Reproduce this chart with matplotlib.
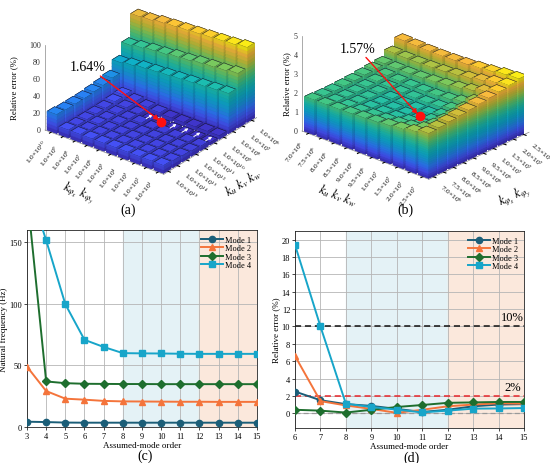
import numpy as np
import matplotlib
matplotlib.use('Agg')
import matplotlib.pyplot as plt
from matplotlib.colors import LinearSegmentedColormap
from mpl_toolkits.mplot3d import proj3d

plt.rcParams['font.family'] = ['Liberation Serif', 'DejaVu Serif']
plt.rcParams['mathtext.fontset'] = 'stix'

# ------------------------------------------------------------------ data
# (a) k_phi along left edge (left corner -> front corner), k_u along right edge (front -> back)
a_phi_labels = ['1.0×10$^{%d}$' % e for e in [10, 9, 8, 7, 6, 5, 4, 3, 2, 1]]
a_u_labels = ['1.0×10$^{%d}$' % e for e in [15, 14, 13, 12, 11, 10, 9, 8, 7, 6]]
a_err = np.array([
    [22, 9, 9, 9, 9, 9, 9, 9, 9, 9],
    [21, 8, 8, 8, 8, 8, 8, 8, 8, 8],
    [21, 8, 8, 7, 7, 7, 7, 7, 7, 7],
    [21, 8, 7, 7, 6, 6, 6, 6, 6, 6],
    [22, 8, 7, 6, 6, 5, 5, 5, 5, 5],
    [23, 9, 7, 5, 2.5, 1.64, 1.8, 2.0, 2.2, 2.5],
    [25, 10, 8, 6, 5, 4, 4, 4, 4, 4],
    [36, 38, 40, 41, 42, 43, 44, 45, 46, 47],
    [50, 52, 54, 55, 57, 58, 60, 61, 62, 64],
    [77, 78, 80, 81, 82, 83, 84, 85, 86, 88],
])
a_best = (5, 5)          # (column, row) of the 1.64 % bar
a_arrow_cols = [4, 6, 7, 8, 9]   # small white arrows in the best row

# (b) k_u along left edge, k_phi along right edge
b_u_labels = ['7.0×10$^{6}$', '7.5×10$^{6}$', '8.0×10$^{6}$', '8.5×10$^{6}$', '9.0×10$^{6}$',
              '9.5×10$^{6}$', '1.0×10$^{7}$', '1.5×10$^{7}$', '2.0×10$^{7}$', '2.5×10$^{7}$']
b_phi_labels = list(b_u_labels)
b_err = np.array([
    [1.82, 1.82, 1.83, 1.85, 1.88, 1.92, 1.98, 2.06, 2.18, 2.35],
    [1.80, 1.76, 1.74, 1.74, 1.75, 1.78, 1.83, 1.92, 2.08, 2.40],
    [1.80, 1.74, 1.70, 1.68, 1.66, 1.66, 1.70, 1.80, 2.02, 2.46],
    [1.82, 1.75, 1.69, 1.65, 1.62, 1.60, 1.57, 1.76, 2.02, 2.52],
    [1.85, 1.78, 1.72, 1.67, 1.64, 1.62, 1.63, 1.78, 2.06, 2.58],
    [1.90, 1.82, 1.76, 1.72, 1.70, 1.70, 1.74, 1.86, 2.14, 2.65],
    [1.95, 1.88, 1.83, 1.80, 1.80, 1.82, 1.88, 2.00, 2.28, 2.72],
    [2.00, 1.98, 1.98, 2.00, 2.05, 2.12, 2.22, 2.35, 2.55, 2.80],
    [2.30, 2.28, 2.28, 2.30, 2.34, 2.40, 2.50, 2.62, 2.78, 2.90],
    [2.70, 2.68, 2.66, 2.66, 2.68, 2.72, 2.78, 2.85, 2.95, 3.00],
])
b_best = (6, 3)

# (c) natural frequency vs assumed-mode order
modes = ['Mode 1', 'Mode 2', 'Mode 3', 'Mode 4']
c_order = [3, 4, 5, 6, 7, 8, 9, 10, 11, 12, 13, 14, 15]
c_mode1 = [4.3, 4.0, 3.6, 3.5, 3.5, 3.5, 3.5, 3.5, 3.5, 3.5, 3.5, 3.5, 3.5]
c_mode2 = [49.0, 29.2, 23.0, 22.2, 21.2, 20.8, 20.7, 20.6, 20.5, 20.5, 20.4, 20.4, 20.4]
c_mode3 = [190.0, 37.0, 35.6, 35.1, 35.0, 34.9, 34.9, 34.8, 34.8, 34.8, 34.8, 34.8, 34.8]
c_mode4 = [200.0, 151.6, 99.7, 70.8, 65.0, 60.0, 59.8, 59.7, 59.5, 59.4, 59.4, 59.4, 59.4]

# (d) relative error vs assumed-mode order
d_order = [6, 7, 8, 9, 10, 11, 12, 13, 14, 15]
d_mode1 = [2.5, 1.5, 1.05, 0.85, 0.5, 0.15, 0.4, 0.8, 1.0, 1.05]
d_mode2 = [6.6, 1.4, 0.9, 0.5, 0.05, 0.4, 0.8, 1.0, 1.15, 1.1]
d_mode3 = [0.4, 0.3, 0.08, 0.4, 0.72, 0.95, 1.2, 1.25, 1.3, 1.3]
d_mode4 = [19.4, 10.0, 1.1, 0.72, 0.42, 0.1, 0.3, 0.53, 0.55, 0.6]
d_limits = [10, 2, 0]

# ------------------------------------------------------------------ styles
W, H = 550, 464
parula = LinearSegmentedColormap.from_list('parula', [
    (0.00, (0.24, 0.18, 0.75)), (0.10, (0.27, 0.32, 0.97)), (0.20, (0.18, 0.47, 0.99)),
    (0.30, (0.10, 0.59, 0.88)), (0.40, (0.05, 0.68, 0.80)), (0.50, (0.10, 0.74, 0.70)),
    (0.60, (0.25, 0.78, 0.53)), (0.70, (0.50, 0.79, 0.35)), (0.80, (0.78, 0.75, 0.22)),
    (0.90, (0.99, 0.73, 0.24)), (1.00, (0.98, 0.98, 0.05))])
mode_colors = ['#1b5e78', '#f4743b', '#1e6e2e', '#17a5c9']
mode_markers = ['o', '^', 'D', 's']
mode_ms = [4.5, 4.5, 3.8, 4.2]
face_factor = [0.6, 1.0, 0.9, 0.6, 0.6, 0.8]   # -z, +z, -y, +y, -x, +x

fig = plt.figure(figsize=(W / 100, H / 100), dpi=100)


def gradient_bars(ax, Z, vmax, seg, width=0.8):
    xs, ys, zs, hs, fcs, ecs = [], [], [], [], [], []
    ny, nx = Z.shape
    off = (1 - width) / 2
    for j in range(ny):
        for i in range(nx):
            h = float(Z[j, i])
            edges = list(np.arange(0, h, seg)) + [h]
            edges = [e for k, e in enumerate(edges) if k == 0 or e - edges[k - 1] > 1e-6]
            for k in range(len(edges) - 1):
                z0, z1 = edges[k], edges[k + 1]
                xs.append(i + off); ys.append(j + off); zs.append(z0); hs.append(z1 - z0)
                base = np.array(parula(min(1.0, (z0 + z1) / 2 / vmax)))
                top = k == len(edges) - 2
                for f, fac in enumerate(face_factor):
                    c = base.copy()
                    c[:3] *= fac
                    fcs.append(tuple(c))
                    if f == 1 and top:
                        ecs.append((0.08, 0.08, 0.15, 0.9))
                    else:
                        ecs.append(tuple(c))
    ax.bar3d(xs, ys, zs, width, width, hs, color=fcs, edgecolors=ecs, linewidths=0.35, shade=False)


def proj2d(ax, x, y, z):
    X, Y, _ = proj3d.proj_transform(x, y, z, ax.get_proj())
    return X, Y


def setup_3d(ax, Z, vmax, seg, zmax, zticks, xlabels, ylabels, xlab, ylab, best, best_text, txt_xy,
             elev, azim, aspect, zoom, zlab_off):
    ax.set_proj_type('ortho')
    ax.computed_zorder = False
    gradient_bars(ax, Z, vmax, seg)
    ax.set_xlim(0, 10); ax.set_ylim(0, 10); ax.set_zlim(0, zmax)
    ax.view_init(elev=elev, azim=azim)
    ax.set_box_aspect(aspect, zoom=zoom)
    for axis in (ax.xaxis, ax.yaxis, ax.zaxis):
        axis.set_pane_color((1, 1, 1, 0))
        axis.pane.set_edgecolor((1, 1, 1, 0))
        axis.line.set_color('#888888')
        axis.line.set_linewidth(0.5)
    ax.zaxis.line.set_color((1, 1, 1, 0))
    ax.grid(False)
    ax.set_xticks(np.arange(10) + 0.5)
    ax.set_yticks(np.arange(10) + 0.5)
    ax.set_zticks([])
    ax.set_xticklabels(xlabels, rotation=50, ha='right', va='center', rotation_mode='anchor', fontsize=5.3)
    ax.set_yticklabels(ylabels, rotation=-40, ha='left', va='center', rotation_mode='anchor', fontsize=5.3)
    ax.tick_params(axis='x', pad=-3)
    ax.tick_params(axis='y', pad=-3)
    ax.set_xlabel(xlab, fontsize=9, labelpad=2)
    ax.set_ylabel(ylab, fontsize=9, labelpad=2)
    # z axis drawn at the left corner
    ax.plot([0, 0], [0, 0], [0, zmax], color='#888888', lw=0.5, zorder=0)
    for t in zticks:
        ax.annotate(str(t), xy=proj2d(ax, 0, 0, t), xycoords='data', xytext=(-3, 0),
                    textcoords='offset points', ha='right', va='center', fontsize=5.8, color='#333333')
    ax.annotate('Relative error (%)', xy=proj2d(ax, 0, 0, zmax / 2), xycoords='data', xytext=(zlab_off, 0),
                textcoords='offset points', ha='center', va='center', rotation=90, fontsize=6.3)
    bx, by = best
    bz = Z[by, bx]
    ax.plot([bx + 0.5], [by + 0.5], [bz], 'o', color='#ff1010', ms=6, zorder=100)
    ax.annotate(best_text, xy=proj2d(ax, bx + 0.5, by + 0.5, bz), xycoords='data', xytext=txt_xy,
                textcoords='figure fraction', fontsize=10, ha='center', va='bottom', zorder=101,
                arrowprops=dict(arrowstyle='-|>', color='#ff1010', lw=1.0, mutation_scale=7,
                                shrinkA=0, shrinkB=2))


ax_a = fig.add_axes([0.0, 0.52, 0.5, 0.48], projection='3d')
setup_3d(ax_a, a_err, 88, 4.0, 100, [0, 20, 40, 60, 80, 100], a_phi_labels, a_u_labels,
         r'$k_{\varphi_x}\ k_{\varphi_y}$', r'$k_u\ k_v\ k_w$', a_best, '1.64%', (0.16, 0.84),
         28.5, -52, (1, 1, 0.64), 1.02, -22)
# small white arrows on the lowest-error row of (a)
for col in a_arrow_cols:
    zt = a_err[a_best[1], col]
    ax_a.annotate('', xy=proj2d(ax_a, col + 0.5, a_best[1] + 0.85, zt), xycoords='data',
                  xytext=proj2d(ax_a, col + 0.5, a_best[1] + 0.15, zt), textcoords='data', zorder=99,
                  arrowprops=dict(arrowstyle='-|>', color='white', lw=0.7, mutation_scale=4,
                                  shrinkA=0, shrinkB=0))

ax_b = fig.add_axes([0.5, 0.52, 0.5, 0.48], projection='3d')
setup_3d(ax_b, b_err, 3.0, 0.12, 5, [0, 1, 2, 3, 4, 5], b_u_labels, b_phi_labels,
         r'$k_u\ k_v\ k_w$', r'$k_{\varphi_x}\ k_{\varphi_y}$', b_best, '1.57%', (0.65, 0.88),
         25, -48, (1.14, 1, 0.70), 1.09, -11)
fig.text(128 / W, 1 - 210 / H, '(a)', fontsize=10, ha='center', va='center')
fig.text(405 / W, 1 - 210 / H, '(b)', fontsize=10, ha='center', va='center')

# place the floor's left corner of each 3-D box where the reference has it
fig.canvas.draw()
for ax, (tx, ty) in ((ax_a, (45, 131)), (ax_b, (302, 132))):
    px, py = ax.transData.transform(proj2d(ax, 0, 0, 0))
    pos = ax.get_position()
    ax.set_position([pos.x0 + (tx - px) / W, pos.y0 + ((H - ty) - py) / H, pos.width, pos.height])


def style_2d(ax):
    for s in ax.spines.values():
        s.set_linewidth(0.6)
        s.set_color('#222222')
    ax.tick_params(labelsize=6, length=2, width=0.5, pad=1.5)
    ax.grid(True, color='#b5b5b5', lw=0.6)
    ax.set_axisbelow(True)


# (c)
ax_c = fig.add_axes([27 / W, 1 - 428 / H, 230 / W, 197 / H])
ax_c.axvspan(8, 12, color='#e4f2f6', zorder=0)
ax_c.axvspan(12, 15, color='#fbe8dc', zorder=0)
for name, vals, col, mk, ms in zip(modes, [c_mode1, c_mode2, c_mode3, c_mode4],
                                    mode_colors, mode_markers, mode_ms):
    ax_c.plot(c_order, vals, color=col, marker=mk, ms=ms, lw=1.4, label=name, zorder=3)
ax_c.set_xlim(3, 15)
ax_c.set_ylim(0, 160)
ax_c.set_xticks(c_order)
ax_c.set_yticks([0, 50, 100, 150])
style_2d(ax_c)
ax_c.set_xlabel('Assumed-mode order', fontsize=6.5, labelpad=1)
ax_c.set_ylabel('Natural frequency (Hz)', fontsize=6.5, labelpad=1)
ax_c.legend(loc='upper right', frameon=False, fontsize=6, handlelength=2.6, borderaxespad=0.3,
            labelspacing=0.05, handletextpad=0.3)
fig.text(145 / W, 1 - 456 / H, '(c)', fontsize=10, ha='center', va='center')

# (d)
ax_d = fig.add_axes([295 / W, 1 - 429 / H, 229 / W, 197 / H])
ax_d.axvspan(8, 12, color='#e4f2f6', zorder=0)
ax_d.axvspan(12, 15, color='#fbe8dc', zorder=0)
for yv, col in zip(d_limits, ['#111111', '#e8262b', '#999999']):
    ax_d.axhline(yv, color=col, ls=(0, (4, 2.5)), lw=1.1 if yv else 0.9, zorder=2)
for name, vals, col, mk, ms in zip(modes, [d_mode1, d_mode2, d_mode3, d_mode4],
                                    mode_colors, mode_markers, mode_ms):
    ax_d.plot(d_order, vals, color=col, marker=mk, ms=ms, lw=1.4, label=name, zorder=3)
ax_d.text(14.55, d_limits[0] + 0.35, '10%', fontsize=9, ha='center', va='bottom')
ax_d.text(14.55, d_limits[1] + 0.35, '2%', fontsize=9, ha='center', va='bottom')
ax_d.set_xlim(6, 15)
ax_d.set_ylim(-1.7, 21)
ax_d.set_xticks(d_order)
ax_d.set_yticks(np.arange(0, 21, 2))
style_2d(ax_d)
ax_d.set_xlabel('Assumed-mode order', fontsize=6.5, labelpad=1)
ax_d.set_ylabel('Relative error (%)', fontsize=6.5, labelpad=1)
ax_d.legend(loc='upper right', frameon=False, fontsize=6, handlelength=2.6, borderaxespad=0.3,
            labelspacing=0.05, handletextpad=0.3)
fig.text(412 / W, 1 - 458 / H, '(d)', fontsize=10, ha='center', va='center')

fig.savefig('out.png', dpi=100)
